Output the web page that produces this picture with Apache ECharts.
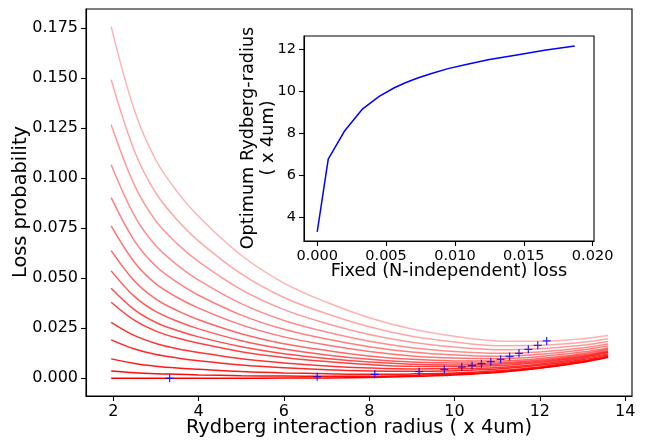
<!DOCTYPE html>
<html>
<head>
<meta charset="utf-8">
<script src="https://cdn.jsdelivr.net/npm/echarts@6/dist/echarts.min.js"></script>
<style>html,body{margin:0;padding:0;background:#fff}#c{width:647px;height:441px}</style>
</head>
<body>
<div id="c"></div>
<script>
// Rydberg interaction radius sample points (x 4um)
const radius = [1.95, 2.5, 3, 3.5, 4, 5, 6, 7, 8, 9, 10, 11, 12, 13, 13.6];
// loss probability curves, bottom (darkest) to top (lightest)
const loss00 = [0.0000,0.0000,0.0000,0.0000,0.0000,0.0000,0.0001,0.0002,0.0004,0.0009,0.0017,0.0029,0.0050,0.0080,0.0105];
const loss01 = [0.0037,0.0028,0.0023,0.0020,0.0017,0.0013,0.0011,0.0010,0.0010,0.0014,0.0021,0.0032,0.0053,0.0082,0.0107];
const loss02 = [0.0097,0.0074,0.0060,0.0051,0.0045,0.0034,0.0027,0.0023,0.0020,0.0022,0.0027,0.0038,0.0057,0.0086,0.0111];
const loss03 = [0.0192,0.0146,0.0119,0.0102,0.0088,0.0067,0.0053,0.0043,0.0037,0.0035,0.0038,0.0046,0.0065,0.0093,0.0117];
const loss04 = [0.0280,0.0213,0.0174,0.0148,0.0129,0.0098,0.0077,0.0062,0.0052,0.0047,0.0048,0.0054,0.0072,0.0099,0.0122];
const loss05 = [0.0380,0.0289,0.0236,0.0201,0.0175,0.0133,0.0104,0.0084,0.0069,0.0060,0.0059,0.0063,0.0079,0.0105,0.0129];
const loss06 = [0.0450,0.0342,0.0279,0.0239,0.0207,0.0158,0.0123,0.0099,0.0081,0.0070,0.0067,0.0070,0.0085,0.0110,0.0133];
const loss07 = [0.0537,0.0408,0.0333,0.0285,0.0247,0.0188,0.0146,0.0117,0.0095,0.0081,0.0076,0.0077,0.0091,0.0116,0.0138];
const loss08 = [0.0638,0.0485,0.0396,0.0338,0.0293,0.0223,0.0173,0.0139,0.0112,0.0095,0.0087,0.0086,0.0099,0.0123,0.0145];
const loss09 = [0.0762,0.0579,0.0472,0.0404,0.0351,0.0267,0.0207,0.0166,0.0134,0.0112,0.0101,0.0098,0.0109,0.0131,0.0152];
const loss10 = [0.0903,0.0686,0.0560,0.0479,0.0415,0.0316,0.0245,0.0196,0.0158,0.0131,0.0116,0.0110,0.0120,0.0141,0.0161];
const loss11 = [0.1067,0.0811,0.0662,0.0566,0.0491,0.0373,0.0289,0.0231,0.0185,0.0153,0.0134,0.0125,0.0132,0.0151,0.0171];
const loss12 = [0.1267,0.0963,0.0786,0.0672,0.0583,0.0443,0.0343,0.0274,0.0219,0.0180,0.0156,0.0143,0.0148,0.0165,0.0184];
const loss13 = [0.1492,0.1134,0.0925,0.0791,0.0686,0.0522,0.0404,0.0323,0.0258,0.0210,0.0181,0.0163,0.0165,0.0180,0.0198];
const loss14 = [0.1758,0.1336,0.1090,0.0932,0.0809,0.0615,0.0476,0.0380,0.0303,0.0246,0.0210,0.0187,0.0185,0.0198,0.0214];
// optimum radius and fixed (N-independent) loss, one per curve
const optRadius = [3.32, 6.78, 8.13, 9.17, 9.76, 10.17, 10.41, 10.63, 10.85, 11.08, 11.29, 11.51, 11.73, 11.95, 12.16];
const fixedLoss = [0.0000, 0.0008, 0.0020, 0.0033, 0.0045, 0.0056, 0.0064, 0.0073, 0.0083, 0.0095, 0.0109, 0.0125, 0.0145, 0.0165, 0.0187];
// tick labels
const mainXTicks = [2, 4, 6, 8, 10, 12, 14];
const mainYTicks = [0, 0.025, 0.05, 0.075, 0.1, 0.125, 0.15, 0.175];
const insetXTicks = [0, 0.005, 0.01, 0.015, 0.02];
const insetYTicks = [4, 6, 8, 10, 12];

const curves = [loss00,loss01,loss02,loss03,loss04,loss05,loss06,loss07,loss08,loss09,loss10,loss11,loss12,loss13,loss14];
const FONT = 'DejaVu Sans';
const chart = echarts.init(document.getElementById('c'), null, {renderer: 'canvas'});

const lineSeries = curves.map((c, i) => ({
  type: 'line', xAxisIndex: 0, yAxisIndex: 0,
  data: radius.map((r, j) => [r, c[j]]),
  smooth: 0.35, showSymbol: false, symbol: 'none', z: 2,
  lineStyle: {color: 'rgba(255,0,0,' + (1 - i * 0.05).toFixed(2) + ')', width: 1.5},
  silent: true
}));

const plusPath = 'path://M4.2,0h1.6v4.2h4.2v1.6h-4.2v4.2h-1.6v-4.2h-4.2v-1.6h4.2z';

function axisCommon(fontSize) {
  return {
    axisLine: {show: true, onZero: false, lineStyle: {color: '#000', width: 1.1}},
    axisTick: {show: true, inside: false, length: 5, lineStyle: {color: '#000', width: 1.1}},
    splitLine: {show: false},
    axisLabel: {color: '#000', fontFamily: FONT, fontSize: fontSize, margin: 8}
  };
}

const ax0 = axisCommon(16), ay0 = axisCommon(16), ax1 = axisCommon(14.5), ay1 = axisCommon(14.5);

const option = {
  animation: false,
  backgroundColor: '#fff',
  grid: [
    {left: 86, top: 9, right: 15, bottom: 45, show: true, borderColor: '#000', borderWidth: 1.1, backgroundColor: 'transparent', containLabel: false},
    {left: 304, top: 36, right: 53, bottom: 200, show: true, borderColor: '#000', borderWidth: 1.1, backgroundColor: '#fff', z: 10, containLabel: false}
  ],
  xAxis: [
    Object.assign({}, ax0, {type: 'value', gridIndex: 0, min: 1.36, max: 14.16,
      axisTick: Object.assign({}, ax0.axisTick, {customValues: mainXTicks}),
      axisLabel: Object.assign({}, ax0.axisLabel, {customValues: mainXTicks, formatter: v => String(Math.round(v))})}),
    Object.assign({}, ax1, {type: 'value', gridIndex: 1, min: -0.00096, max: 0.0201, z: 11,
      axisTick: Object.assign({}, ax1.axisTick, {customValues: insetXTicks}),
      axisLabel: Object.assign({}, ax1.axisLabel, {customValues: insetXTicks, formatter: v => v.toFixed(3)})})
  ],
  yAxis: [
    Object.assign({}, ay0, {type: 'value', gridIndex: 0, min: -0.00885, max: 0.1846,
      axisTick: Object.assign({}, ay0.axisTick, {customValues: mainYTicks}),
      axisLabel: Object.assign({}, ay0.axisLabel, {customValues: mainYTicks, formatter: v => v.toFixed(3)})}),
    Object.assign({}, ay1, {type: 'value', gridIndex: 1, min: 2.886, max: 12.63, z: 11,
      axisTick: Object.assign({}, ay1.axisTick, {customValues: insetYTicks}),
      axisLabel: Object.assign({}, ay1.axisLabel, {customValues: insetYTicks, formatter: v => String(Math.round(v))})})
  ],
  series: lineSeries.concat([
    {type: 'scatter', xAxisIndex: 0, yAxisIndex: 0, z: 3, silent: true,
     data: optRadius.map((r, i) => [r, fixedLoss[i]]),
     symbol: plusPath, symbolSize: 8, itemStyle: {color: '#0000ff'}},
    {type: 'line', xAxisIndex: 1, yAxisIndex: 1, z: 12, silent: true,
     data: fixedLoss.map((f, i) => [f, optRadius[i]]),
     showSymbol: false, symbol: 'none', lineStyle: {color: '#0000ff', width: 1.5}}
  ]),
  graphic: [
    {type: 'text', x: 359, y: 428, z: 100, style: {text: 'Rydberg interaction radius ( x 4um)', font: '19.4px "DejaVu Sans"', fill: '#000', align: 'center', verticalAlign: 'middle'}},
    {type: 'text', x: 21, y: 202, rotation: Math.PI / 2, z: 100, style: {text: 'Loss probability', font: '19.4px "DejaVu Sans"', fill: '#000', align: 'center', verticalAlign: 'middle'}},
    {type: 'text', x: 449, y: 271, z: 100, style: {text: 'Fixed (N-independent) loss', font: '17.7px "DejaVu Sans"', fill: '#000', align: 'center', verticalAlign: 'middle'}},
    {type: 'text', x: 248, y: 138, rotation: Math.PI / 2, z: 100, style: {text: 'Optimum Rydberg-radius', font: '17.7px "DejaVu Sans"', fill: '#000', align: 'center', verticalAlign: 'middle'}},
    {type: 'text', x: 268, y: 138, rotation: Math.PI / 2, z: 100, style: {text: '( x 4um)', font: '17.7px "DejaVu Sans"', fill: '#000', align: 'center', verticalAlign: 'middle'}}
  ]
};
chart.setOption(option);
</script>
</body>
</html>
